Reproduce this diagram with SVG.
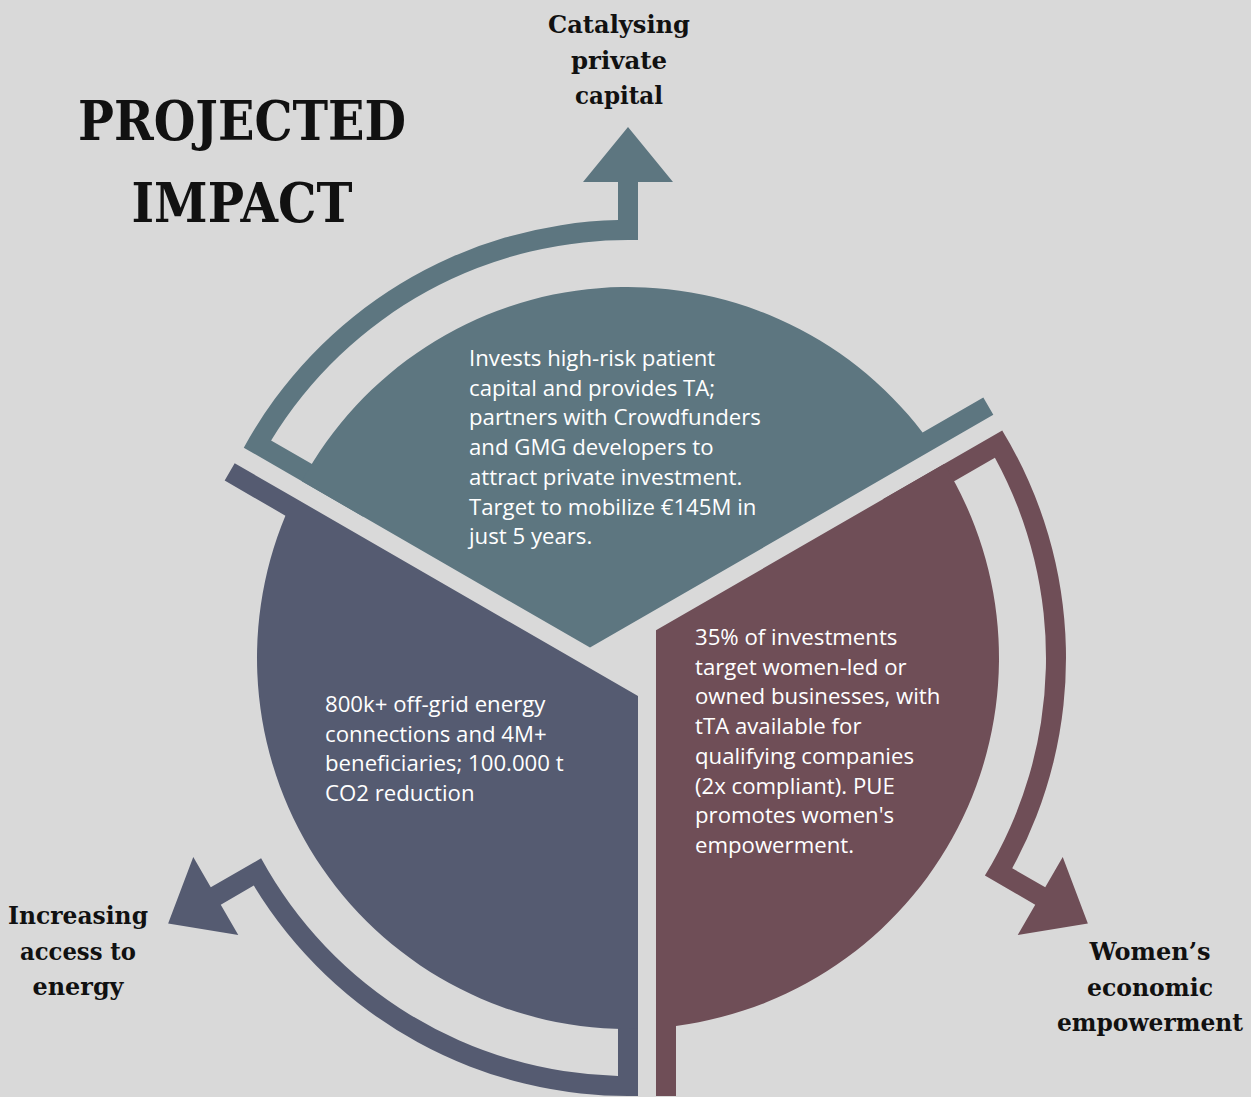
<svg xmlns="http://www.w3.org/2000/svg" xmlns:xlink="http://www.w3.org/1999/xlink" width="1251" height="1097" viewBox="0 0 1251 1097">
  <style>
    .bg { fill: #D9D9D9; }
    .teal { fill: #5D7680; }
    .slate { fill: #555B71; }
    .maroon { fill: #6F4E57; }
    .body { font-family: "Open Sans", "Liberation Sans", sans-serif; font-size: 22.2px; fill: #FFFFFF; }
    .label { font-family: "DejaVu Serif", "Liberation Serif", serif; font-weight: bold; font-size: 25px; fill: #111111; text-anchor: middle; }
    .title { font-family: "DejaVu Serif", "Liberation Serif", serif; font-weight: bold; font-size: 54px; fill: #111111; text-anchor: middle; }
  </style>
  <defs>
    <!-- One third of the wheel (circle r=371 about 628,658), drawn in the upright position,
         with the short strip that runs out along its right-hand gap edge -->
    <path id="sector-shape" d="M590,647.61 L934.38,448.78 L993.32,414.75 L983.32,397.43 L922.59,432.49 A371,371 0 0 0 301.82,481.23 Z"/>
    <!-- Curved arrow: tail strip on the left gap, band between r=418 and r=438, stem and head at the top -->
    <path id="arc-arrow" d="M363.19,516.66 L243.78,447.72 A438,438 0 0 1 618,220.11 L618,182 L583,182 L628,127 L673,182 L638,182 L638,240.12 A418,418 0 0 0 271.11,440.40 L373.19,499.34 Z"/>
  </defs>

  <rect class="bg" x="0" y="0" width="1251" height="1097"/>

  <g id="title">
    <text class="title" x="242" y="140" textLength="328" lengthAdjust="spacingAndGlyphs">PROJECTED</text>
    <text class="title" x="242" y="222" textLength="221" lengthAdjust="spacingAndGlyphs">IMPACT</text>
  </g>

  <g id="connectors">
    <use xlink:href="#arc-arrow" class="teal"/>
    <use xlink:href="#arc-arrow" class="maroon" transform="rotate(120 628 658)"/>
    <use xlink:href="#arc-arrow" class="slate" transform="rotate(240 628 658)"/>
  </g>

  <g id="node-private-capital">
    <use xlink:href="#sector-shape" class="teal"/>
    <text class="body" x="469" y="366">
      <tspan x="469" y="366">Invests high-risk patient</tspan>
      <tspan x="469" y="395.7">capital and provides TA;</tspan>
      <tspan x="469" y="425.4">partners with Crowdfunders</tspan>
      <tspan x="469" y="455.1">and GMG developers to</tspan>
      <tspan x="469" y="484.8">attract private investment.</tspan>
      <tspan x="469" y="514.5">Target to mobilize €145M in</tspan>
      <tspan x="469" y="544.2">just 5 years.</tspan>
    </text>
  </g>

  <g id="node-women">
    <use xlink:href="#sector-shape" class="maroon" transform="rotate(120 628 658)"/>
    <text class="body" x="695" y="645">
      <tspan x="695" y="645">35% of investments</tspan>
      <tspan x="695" y="674.7">target women-led or</tspan>
      <tspan x="695" y="704.4">owned businesses, with</tspan>
      <tspan x="695" y="734.1">tTA available for</tspan>
      <tspan x="695" y="763.8">qualifying companies</tspan>
      <tspan x="695" y="793.5">(2x compliant). PUE</tspan>
      <tspan x="695" y="823.2">promotes women's</tspan>
      <tspan x="695" y="852.9">empowerment.</tspan>
    </text>
  </g>

  <g id="node-energy">
    <use xlink:href="#sector-shape" class="slate" transform="rotate(240 628 658)"/>
    <text class="body" x="325" y="712">
      <tspan x="325" y="712">800k+ off-grid energy</tspan>
      <tspan x="325" y="741.7">connections and 4M+</tspan>
      <tspan x="325" y="771.4">beneficiaries; 100.000 t</tspan>
      <tspan x="325" y="801.1">CO2 reduction</tspan>
    </text>
  </g>

  <g id="label-private-capital">
    <text class="label" x="619" y="33" textLength="142" lengthAdjust="spacingAndGlyphs">Catalysing</text>
    <text class="label" x="619" y="69" textLength="96" lengthAdjust="spacingAndGlyphs">private</text>
    <text class="label" x="619" y="104" textLength="88" lengthAdjust="spacingAndGlyphs">capital</text>
  </g>

  <g id="label-energy">
    <text class="label" x="78" y="924" textLength="140" lengthAdjust="spacingAndGlyphs">Increasing</text>
    <text class="label" x="78" y="960" textLength="116" lengthAdjust="spacingAndGlyphs">access to</text>
    <text class="label" x="78" y="995" textLength="91" lengthAdjust="spacingAndGlyphs">energy</text>
  </g>

  <g id="label-women">
    <text class="label" x="1150" y="960" textLength="121" lengthAdjust="spacingAndGlyphs">Women’s</text>
    <text class="label" x="1150" y="996" textLength="126" lengthAdjust="spacingAndGlyphs">economic</text>
    <text class="label" x="1150" y="1031" textLength="186" lengthAdjust="spacingAndGlyphs">empowerment</text>
  </g>
</svg>
